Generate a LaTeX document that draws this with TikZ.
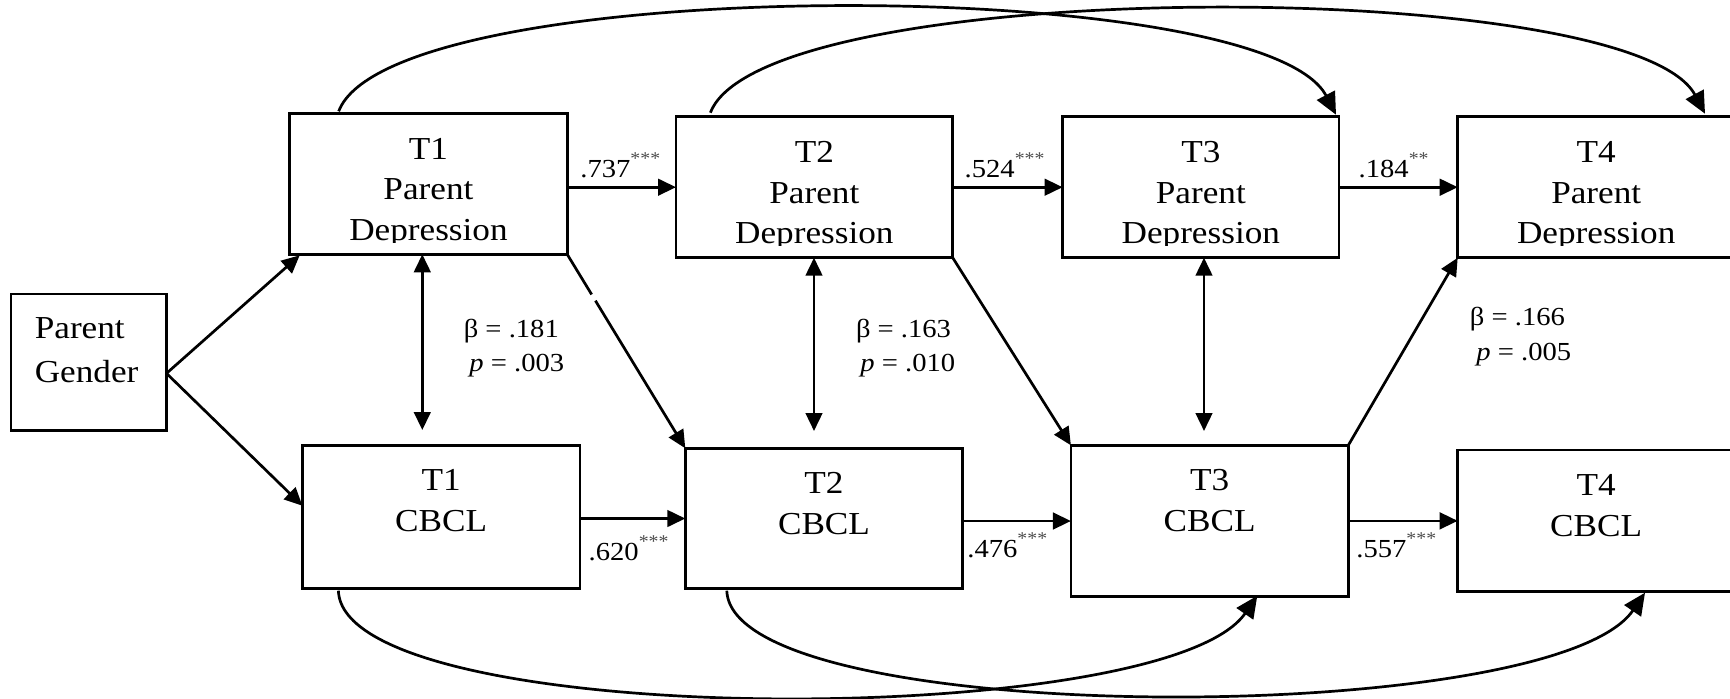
\documentclass[tikz,border=0pt]{standalone}
\usepackage{fontspec}
\setmainfont{Liberation Serif}[FakeStretch=1.1]
\usetikzlibrary{arrows.meta,calc}

% significance stars set small and raised after a coefficient
\newcommand\sigstars[1]{\raisebox{6.5pt}{\fontsize{9pt}{9pt}\selectfont\color{black!70}#1}}

% three-line text of a parent-depression box; the last line is cut at the box floor
\newcommand\pdtext[2]{%
  \node[lbl] (#1-a) at ($(#1.north)+(0,46)$) {#2};
  \node[lbl] (#1-b) at ($(#1.north)+(0,86.5)$) {Parent};
  \begin{scope}
    \clip (#1.north west) rectangle ($(#1.south east)+(0,-12)$);
    \node[lbl] (#1-c) at ($(#1.north)+(0,127)$) {Depression};
  \end{scope}}

% two-line text of a CBCL box
\newcommand\cbtext[2]{%
  \node[lbl] (#1-a) at ($(#1.north)+(0,45)$) {#2};
  \node[lbl] (#1-b) at ($(#1.north)+(0,86.5)$) {CBCL};}

\begin{document}
\begin{tikzpicture}[x=0.5pt,y=-0.5pt,
  box/.style={draw, line width=1.35pt, inner sep=0pt, outer sep=0pt, anchor=north west},
  lbl/.style={anchor=base, inner sep=0pt, font=\fontsize{16pt}{19pt}\selectfont},
  num/.style={anchor=base west, inner sep=0pt, font=\fontsize{13pt}{15pt}\selectfont},
  conn/.style={line width=1.35pt, -{Triangle[length=9pt,width=8.3pt]}},
  lagconn/.style={line width=1.35pt, -{Triangle[length=11pt,width=10pt]}},
  twoway/.style={line width=1.35pt, {Triangle[length=9pt,width=8.3pt]}-{Triangle[length=9pt,width=8.3pt]}},
  plainline/.style={line width=1.35pt}]
\clip (0,0) rectangle (1730,698);

% ---- boxes ----
\node[box, minimum width=77.75pt, minimum height=68.35pt] (gender) at (11,294) {};
\node[box, minimum width=138.75pt, minimum height=70.5pt] (t1pd) at (289.7,113.3) {};
\node[box, minimum width=138.35pt, minimum height=70.5pt] (t2pd) at (676,116.7) {};
\node[box, minimum width=138.2pt,  minimum height=70.5pt] (t3pd) at (1062.6,116.7) {};
\node[box, minimum width=138.5pt,  minimum height=70.5pt] (t4pd) at (1457.7,116.7) {};
\node[box, minimum width=138.8pt,  minimum height=71.7pt] (t1cb) at (302.4,445.3) {};
\node[box, minimum width=138.7pt,  minimum height=70.2pt] (t2cb) at (685.3,448.3) {};
\node[box, minimum width=138.7pt,  minimum height=75.7pt] (t3cb) at (1070.9,445.3) {};
\node[box, minimum width=138.5pt,  minimum height=70.85pt] (t4cb) at (1457.7,450) {};

% ---- box texts ----
\node[lbl, anchor=base west] (gender-a) at ($(gender.north west)+(23.4,44.3)$) {Parent};
\node[lbl, anchor=base west] (gender-b) at ($(gender.north west)+(23.4,88.7)$) {Gender};
\pdtext{t1pd}{T1}
\pdtext{t2pd}{T2}
\pdtext{t3pd}{T3}
\pdtext{t4pd}{T4}
\cbtext{t1cb}{T1}
\cbtext{t2cb}{T2}
\cbtext{t3cb}{T3}
\cbtext{t4cb}{T4}

% ---- parent gender paths ----
\draw[conn] ($(gender.east)+(0,11)$) -- ($(t1pd.south west)+(10,1)$);
\draw[conn] ($(gender.east)+(0,11)$) -- ($(t1cb.north west)+(0,60.4)$);

% ---- stability paths ----
\draw[conn] (t1pd.east |- t2pd.west) -- (t2pd.west);
\draw[conn] (t2pd.east) -- (t3pd.west);
\draw[conn] (t3pd.east) -- (t4pd.west);
\draw[conn] (t1cb.east |- t2cb.west) -- (t2cb.west);
\draw[conn] (t2cb.east |- t3cb.west) -- (t3cb.west);
\draw[conn] (t3cb.east |- t4cb.west) -- (t4cb.west);

% ---- cross-lagged paths ----
\draw[plainline] (t1pd.south east) -- ($(t1pd.south east)!0.207!(t2cb.north west)$);
\draw[conn] ($(t1pd.south east)!0.239!(t2cb.north west)$) -- (t2cb.north west);
\draw[conn] (t2pd.south east) -- (t3cb.north west);
\draw[conn] (t3cb.north east) -- (t4pd.south west);

% ---- within-wave associations ----
\coordinate (v1) at (422.3,430);
\coordinate (v2) at (814,431);
\coordinate (v3) at (1204,431);
\draw[twoway] (v1 |- t1pd.south) -- (v1);
\draw[twoway] (v2 |- t2pd.south) -- (v2);
\draw[twoway] (v3 |- t3pd.south) -- (v3);

% ---- lag-2 paths ----
\draw[lagconn] ($(t1pd.north west)+(49,-2)$) .. controls (391,-27) and (1262,-27) .. ($(t3pd.north east)+(-3,-2)$);
\draw[lagconn] ($(t2pd.north west)+(34.4,-4)$) .. controls (763,-25) and (1631,-25) .. ($(t4pd.north west)+(247.3,-3)$);
\draw[lagconn] ($(t1cb.south west)+(36,2)$) .. controls (343,731) and (1164,731) .. ($(t3cb.south east)+(-91,-1)$);
\draw[lagconn] ($(t2cb.south west)+(41.5,2)$) .. controls (732,729) and (1552,729) .. ($(t4cb.south west)+(187.3,1)$);

% ---- coefficients ----
\node[num] (c737) at (580,177) {.737\sigstars{***}};
\node[num] (c524) at (964.3,177) {.524\sigstars{***}};
\node[num] (c184) at (1358.3,177) {.184\sigstars{**}};
\node[num] (c620) at (588.3,560) {.620\sigstars{***}};
\node[num] (c476) at (967,557.3) {.476\sigstars{***}};
\node[num] (c557) at (1356,557.5) {.557\sigstars{***}};

\node[num] (b181) at (463.4,337) {β = .181};
\node[num] (p181) at (469,371) {\textit{p} = .003};
\node[num] (b163) at (855.6,337.3) {β = .163};
\node[num] (p163) at (860,371.7) {\textit{p} = .010};
\node[num] (b166) at (1469.5,325.5) {β = .166};
\node[num] (p166) at (1476,360) {\textit{p} = .005};
\end{tikzpicture}
\end{document}
